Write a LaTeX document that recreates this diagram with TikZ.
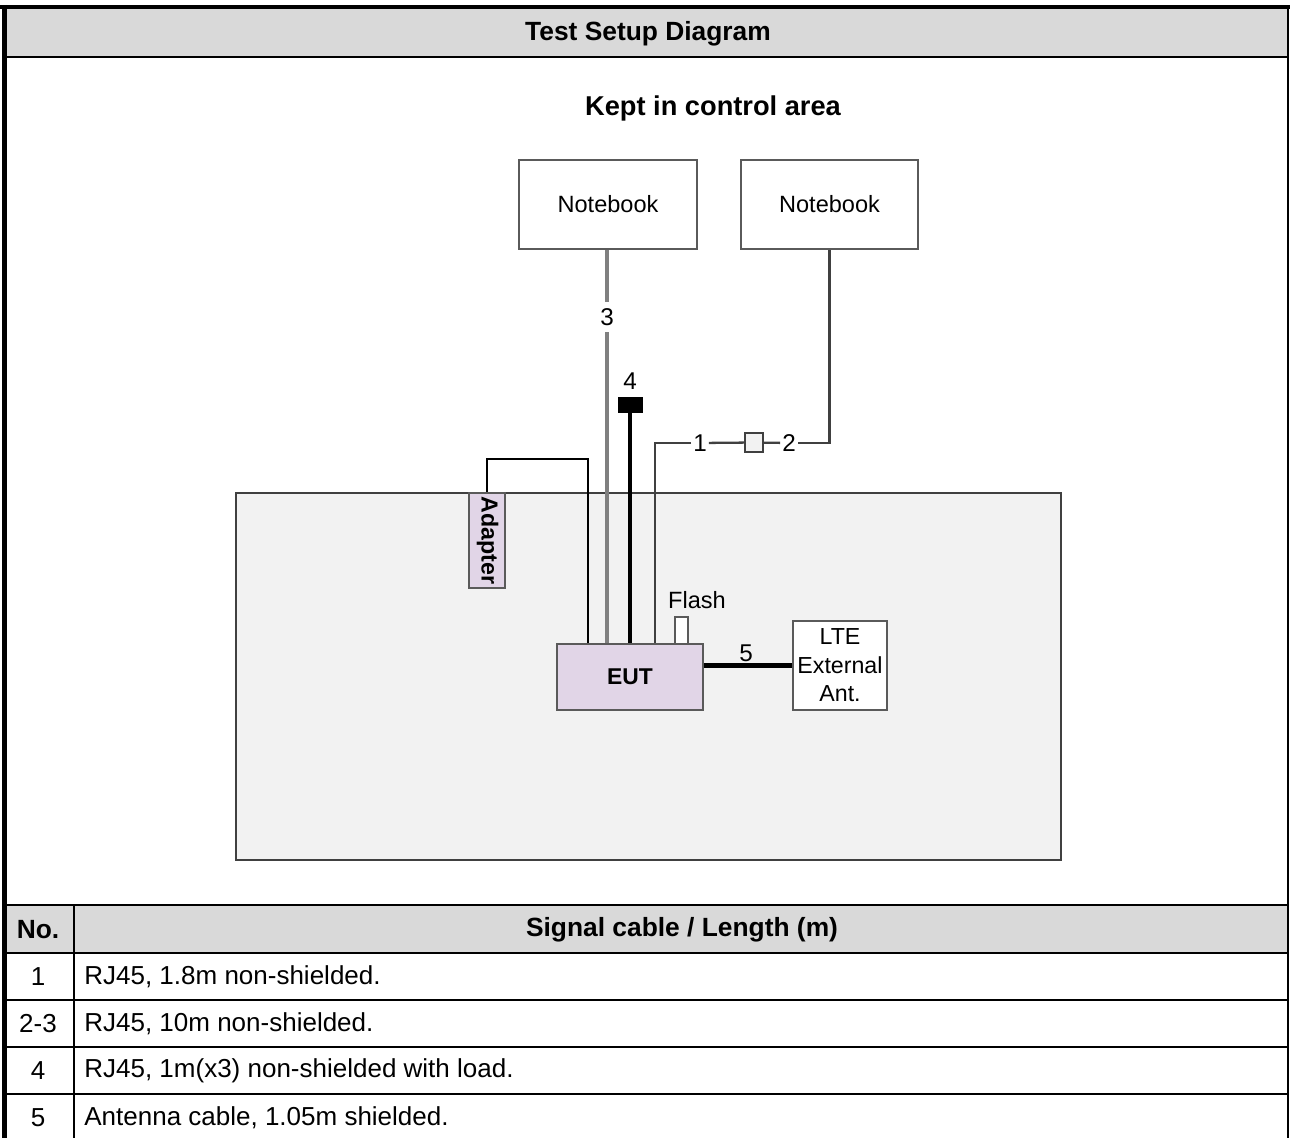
\documentclass[tikz,border=0pt]{standalone}
\usepackage{fontspec}
\setmainfont{Liberation Sans}
\definecolor{hdrgray}{HTML}{D9D9D9}
\definecolor{areagray}{HTML}{F2F2F2}
\definecolor{dkgray}{HTML}{404040}
\definecolor{midgray}{HTML}{808080}
\definecolor{boxgray}{HTML}{5A5A5A}
\definecolor{lilac}{HTML}{E1D5E7}
\begin{document}
\begin{tikzpicture}[x=0.02cm,y=-0.02cm,
  frame/.style={line width=2.4pt,black},
  gridline/.style={line width=1.2pt,black},
  bigtext/.style={font=\fontsize{15}{18}\selectfont\bfseries},
  celltext/.style={font=\fontsize{14.8}{18}\selectfont, anchor=west, inner sep=0pt},
  devbox/.style={draw=boxgray, line width=1.4pt, fill=white, inner sep=0pt},
  nbfont/.style={font=\fontsize{13.4}{16}\selectfont},
  numlabel/.style={font=\fontsize{13.8}{16}\selectfont, inner xsep=1pt, inner ysep=3.5pt},
  thincable/.style={draw=dkgray, line width=1.3pt},
  graycable/.style={draw=midgray, line width=1.8pt},
  thickcable/.style={draw=black, line width=2.4pt},
]
\useasboundingbox (0,0) rectangle (1290,1138);
% ---- header rows ----
\fill[hdrgray] (4,7) rectangle (1288,57);
\fill[hdrgray] (4,905) rectangle (1288,953);
\fill[white] (4,57) rectangle (1288,905);
\node[bigtext] (title) at (648,34) {Test Setup Diagram};
\node[bigtext] (colno) at (38,930) {No.};
\node[bigtext] (colsig) at (682,930) {Signal cable / Length (m)};
% ---- table / frame lines ----
\draw[gridline] (4,57) -- (1288,57);
\draw[gridline] (4,905) -- (1288,905);
\draw[gridline] (4,953) -- (1288,953);
\draw[gridline] (4,1000) -- (1288,1000);
\draw[gridline] (4,1047) -- (1288,1047);
\draw[gridline] (4,1094) -- (1288,1094);
\draw[gridline] (74,905) -- (74,1138);
\draw[line width=1.2pt] (1288,7) -- (1288,1138);
\draw[frame] (4.5,5) -- (4.5,1138);
\draw[frame] (0,7) -- (1290,7);
% ---- table rows ----
\node[font=\fontsize{14.8}{18}\selectfont] (n1) at (38,977) {1};
\node[font=\fontsize{14.8}{18}\selectfont] (n2) at (38,1024) {2-3};
\node[font=\fontsize{14.8}{18}\selectfont] (n3) at (38,1071) {4};
\node[font=\fontsize{14.8}{18}\selectfont] (n4) at (38,1118) {5};
\node[celltext] (t1) at (84,977) {RJ45, 1.8m non-shielded.};
\node[celltext] (t2) at (84,1024) {RJ45, 10m non-shielded.};
\node[celltext] (t3) at (84,1071) {RJ45, 1m(x3) non-shielded with load.};
\node[celltext] (t4) at (84,1118) {Antenna cable, 1.05m shielded.};
% ---- diagram ----
\node[font=\fontsize{15.5}{18}\selectfont\bfseries] (kept) at (713,108) {Kept in control area};
\node[draw=dkgray, line width=1.3pt, fill=areagray, minimum width=16.5cm, minimum height=7.34cm, inner sep=0pt] (area) at (648.5,676.5) {};
\node[devbox, minimum width=3.56cm, minimum height=1.78cm, nbfont] (nb1) at (608,204.5) {Notebook};
\node[devbox, minimum width=3.54cm, minimum height=1.78cm, nbfont] (nb2) at (829.5,204.5) {Notebook};
\node[devbox, fill=lilac, minimum width=2.92cm, minimum height=1.32cm, font=\fontsize{13}{15}\selectfont\bfseries] (eut) at (630,677) {EUT};
\node[devbox, fill=white, minimum width=0.26cm, minimum height=0.54cm] (flash) at (681.5,630.5) {};
\node[nbfont] (flashlbl) at (697,600) {Flash};
\node[devbox, minimum width=1.88cm, minimum height=1.78cm, align=center, font=\fontsize{13.2}{16.2}\selectfont] (lte) at (840,665.5) {LTE\\External\\Ant.};
\node[devbox, fill=lilac, minimum width=0.72cm, minimum height=1.9cm] (adp) at (487,540.5) {};
\node[rotate=-90, inner sep=0pt, font=\fontsize{13.2}{15}\selectfont\bfseries] (adplbl) at (487.5,540.5) {Adapter};
\node[draw=black, fill=black, minimum width=0.48cm, minimum height=0.3cm, inner sep=0pt] (load) at (630,404.5) {};
\node[draw=dkgray, line width=1.1pt, fill=areagray, minimum width=0.36cm, minimum height=0.38cm, inner sep=0pt] (conn) at (754,442.5) {};
% labels on cables
\node[numlabel] (l3) at (607,317) {3};
\node[numlabel] (l4) at (630,381) {4};
\node[numlabel] (l1) at (700,443) {1};
\node[numlabel] (l2) at (789,443) {2};
\node[numlabel] (l5) at (746,653) {5};
\coordinate (k1) at (655,443);
\coordinate (a1) at (588,459);
% cables
\draw[graycable] (l3 |- nb1.south) -- (l3);
\draw[graycable] (l3) -- (l3 |- eut.north);
\draw[thickcable] (load.south) -- (load.south |- eut.north);
\draw[thincable] (nb2.south) |- (l2);
\draw[thincable] (l2) -- (conn);
\draw[thincable] (conn) -- (l1);
\draw[thincable] (l1) -- (k1) -- (k1 |- eut.north);
\draw[thincable, draw=black] (adp.north) |- (a1) -- (a1 |- eut.north);
\draw[thickcable] (eut.east |- lte.west) -- (lte.west);
\end{tikzpicture}
\end{document}
